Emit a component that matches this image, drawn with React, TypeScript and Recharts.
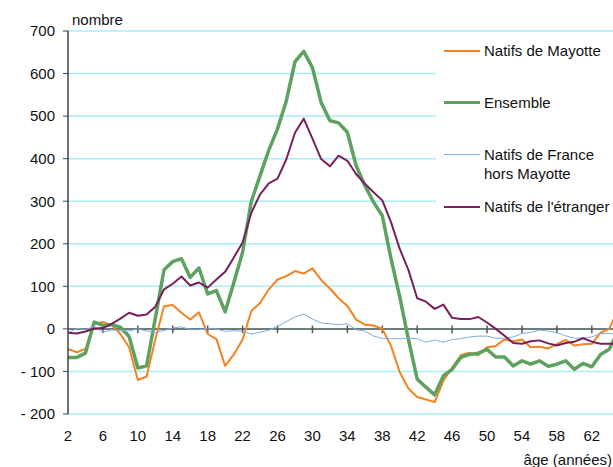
import React from 'react';
import { LineChart, Line, XAxis, YAxis, CartesianGrid, ReferenceLine, Legend, Label } from 'recharts';

// ages (années)
const AGES = [2, 3, 4, 5, 6, 7, 8, 9, 10, 11, 12, 13, 14, 15, 16, 17, 18, 19, 20, 21, 22, 23, 24, 25, 26, 27, 28, 29, 30, 31, 32, 33,
  34, 35, 36, 37, 38, 39, 40, 41, 42, 43, 44, 45, 46, 47, 48, 49, 50, 51, 52, 53, 54, 55, 56, 57, 58, 59, 60, 61, 62, 63, 64, 65];

const MAYOTTE = [-47, -55, -47, 12, 16, 9, -12, -43, -120, -112, -25, 53, 56, 38, 22, 39, -12, -24, -87, -60, -25, 42, 61, 93, 116, 124,
  136, 130, 142, 115, 95, 72, 54, 22, 10, 8, 0, -40, -102, -140, -160, -166, -172, -122, -91, -62, -56, -62, -43, -40, -25, -29, -25,
  -43, -42, -46, -36, -26, -39, -36, -35, -9, 0, 45];

const ENSEMBLE = [-67, -67, -57, 16, 8, 10, 4, -18, -92, -87, 25, 139, 158, 165, 121, 143, 82, 90, 40, 109, 180, 300, 360, 420, 470,
  535, 628, 652, 614, 532, 489, 484, 462, 384, 337, 298, 266, 165, 75, -25, -118, -137, -155, -110, -95, -67, -60, -57, -48, -66, -66,
  -87, -75, -83, -75, -88, -83, -75, -95, -81, -89, -60, -48, -5];

const FRANCE = [-9, 1, -2, 6, -8, -2, -5, -5, 0, -5, -8, -4, 2, 5, -2, -2, 0, 0, -6, -4, -6, -12, -8, -3, 6, 17, 28, 35, 23, 14, 12, 10,
  12, -2, -5, -17, -22, -23, -23, -22, -23, -31, -26, -31, -25, -23, -19, -17, -17, -22, -22, -19, -11, -8, -3, -5, -9, -16, -22, -21,
  -19, -11, -11, -13];

const ETRANGER = [-9, -11, -6, 1, 2, 12, 24, 38, 31, 34, 52, 93, 106, 123, 102, 109, 97, 116, 134, 168, 203, 273, 316, 342, 353, 398,
  461, 494, 447, 399, 382, 407, 395, 364, 341, 321, 302, 251, 188, 138, 72, 64, 47, 57, 26, 23, 23, 28, 15, 0, -16, -33, -35, -29, -27,
  -34, -39, -33, -30, -22, -30, -35, -35, -35];

const X_TICKS = [2, 6, 10, 14, 18, 22, 26, 30, 34, 38, 42, 46, 50, 54, 58, 62];
const ZERO_TICKS = [6, 10, 14, 18, 22, 26, 30, 34, 38, 42, 46, 50, 54, 58, 62];
const Y_TICKS = [-200, -100, 0, 100, 200, 300, 400, 500, 600, 700];

const SERIES = [
  { key: 'mayotte', name: 'Natifs de Mayotte', color: '#F58220', width: 2 },
  { key: 'ensemble', name: 'Ensemble', color: '#5BA35F', width: 3.5 },
  { key: 'france', name: 'Natifs de France\nhors Mayotte', color: '#7FAEE0', width: 1 },
  { key: 'etranger', name: "Natifs de l'étranger", color: '#7A1F5C', width: 2 },
];

const data = AGES.map((age, i) => ({
  age,
  mayotte: MAYOTTE[i],
  ensemble: ENSEMBLE[i],
  france: FRANCE[i],
  etranger: ETRANGER[i],
}));

const FONT = "'Liberation Sans', Arial, sans-serif";

const fmtY = (v: number) => (v < 0 ? `- ${-v}` : `${v}`);

// legend keeps the series order (recharts sorts the payload by name otherwise)
const renderLegend = (props: any) => {
  const keys = (props.payload || []).map((p: any) => p.dataKey);
  const items = SERIES.filter(s => keys.includes(s.key));
  return (
    <div style={{ background: '#fff', width: 177, height: 200, paddingTop: 7, boxSizing: 'border-box', fontFamily: FONT, fontSize: 15, color: '#111' }}>
      {items.map(s => (
        <div key={s.key} style={{ display: 'flex', alignItems: 'flex-start', height: 52 }}>
          <div style={{ marginLeft: 8, marginTop: 9.5 - s.width / 2, width: 36, height: s.width, background: s.color }} />
          <div style={{ marginLeft: 4, lineHeight: '19px', whiteSpace: 'pre-line' }}>{s.name}</div>
        </div>
      ))}
    </div>
  );
};

export default function App() {
  return (
    <div style={{ position: 'absolute', left: 0, top: 0, width: 618, height: 467, background: '#fff' }}>
      <LineChart width={618} height={467} data={data} margin={{ top: 31, right: 0, bottom: 0, left: 0 }}>
        <CartesianGrid vertical={false} stroke="#A8EEF8" strokeWidth={1.5} />
        <XAxis
          dataKey="age"
          type="number"
          domain={[2, 65]}
          ticks={X_TICKS}
          interval={0}
          axisLine={false}
          tickLine={false}
          height={53}
          tickMargin={10}
          tick={{ fill: '#111', fontSize: 15, fontFamily: FONT }}
        >
          <Label
            content={({ viewBox }: any) => (
              <text x={viewBox.x + viewBox.width - 6} y={viewBox.y + 51} textAnchor="end" fill="#111" fontSize={15} fontFamily={FONT}>
                âge (années)
              </text>
            )}
          />
        </XAxis>
        <YAxis
          domain={[-200, 700]}
          ticks={Y_TICKS}
          interval={0}
          width={68}
          tickFormatter={fmtY}
          axisLine={{ stroke: '#444', strokeWidth: 1.5 }}
          tickLine={{ stroke: '#444' }}
          tickSize={5}
          tickMargin={8}
          tick={{ fill: '#111', fontSize: 15, fontFamily: FONT }}
        >
          <Label
            content={({ viewBox }: any) => (
              <text x={viewBox.x + viewBox.width + 4} y={viewBox.y - 6} fill="#111" fontSize={15} fontFamily={FONT}>
                nombre
              </text>
            )}
          />
        </YAxis>
        <ReferenceLine y={0} stroke="#555" strokeWidth={1.5} />
        {ZERO_TICKS.map(t => (
          <ReferenceLine key={t} segment={[{ x: t, y: 8 }, { x: t, y: -10 }]} stroke="#555" strokeWidth={1.5} />
        ))}
        <Legend
          layout="vertical"
          align="center"
          verticalAlign="middle"
          content={renderLegend}
          wrapperStyle={{ position: 'absolute', left: 436, top: 34, width: 177, height: 200 }}
        />
        {SERIES.map(s => (
          <Line
            key={s.key}
            type="linear"
            dataKey={s.key}
            name={s.name}
            stroke={s.color}
            strokeWidth={s.width}
            dot={false}
            activeDot={false}
            strokeLinejoin="round"
            isAnimationActive={false}
          />
        ))}
      </LineChart>
    </div>
  );
}
